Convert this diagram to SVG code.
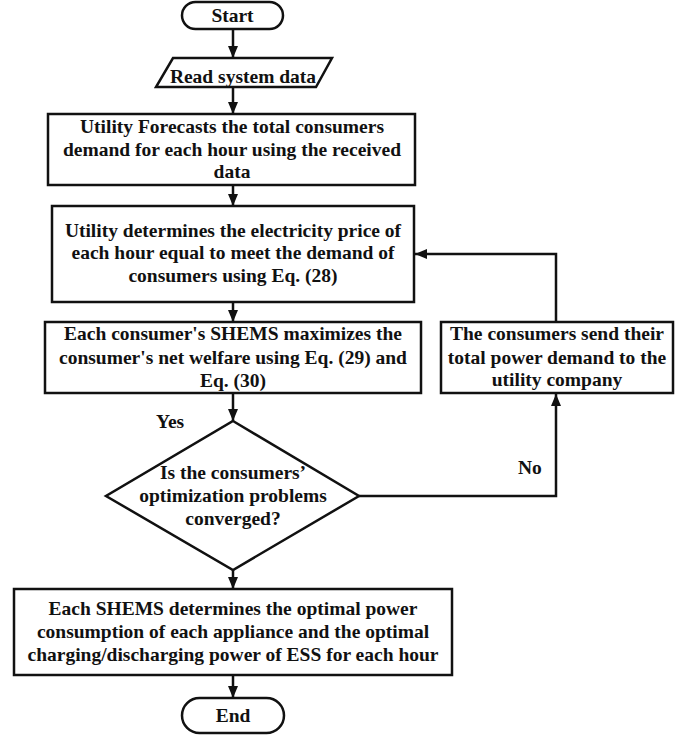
<svg xmlns="http://www.w3.org/2000/svg" width="689" height="738" viewBox="0 0 689 738">
<style>
.box{fill:#fff;stroke:#111;stroke-width:2.5}
.t{font-family:"Liberation Serif","Times New Roman",serif;font-weight:bold;font-size:19.5px;fill:#111;text-anchor:middle}
.lbl{font-family:"Liberation Serif","Times New Roman",serif;font-weight:bold;font-size:19.5px;fill:#111}
.c{fill:none;stroke:#111;stroke-width:2.5}
</style>
<defs>
<marker id="ah" markerUnits="userSpaceOnUse" viewBox="0 0 12 10" markerWidth="12" markerHeight="10" refX="12" refY="5" orient="auto">
<path d="M0,0 L12,5 L0,10 z" fill="#111"/>
</marker>
</defs>
<rect width="689" height="738" fill="#fff"/>
<g id="connectors">
<line class="c" x1="233" y1="29" x2="233" y2="58" marker-end="url(#ah)"/>
<line class="c" x1="233" y1="87" x2="233" y2="114" marker-end="url(#ah)"/>
<line class="c" x1="233" y1="185" x2="233" y2="206" marker-end="url(#ah)"/>
<line class="c" x1="233" y1="302" x2="233" y2="322" marker-end="url(#ah)"/>
<line class="c" x1="233" y1="393" x2="233" y2="421" marker-end="url(#ah)"/>
<line class="c" x1="233" y1="570" x2="233" y2="589" marker-end="url(#ah)"/>
<line class="c" x1="233" y1="675" x2="233" y2="698" marker-end="url(#ah)"/>
<polyline class="c" points="359,496 556,496 556,394" marker-end="url(#ah)"/>
<polyline class="c" points="556,322 556,254 415,254" marker-end="url(#ah)"/>
<text class="lbl" x="156" y="428">Yes</text>
<text class="lbl" x="518" y="474">No</text>
</g>
<g id="start">
<rect class="box" x="182" y="2" width="101" height="27" rx="13.5"/>
<text class="t" x="232.5" y="22">Start</text>
</g>
<g id="read">
<polygon class="box" points="173,58 332,58 316,87 156,87"/>
<text class="t" x="243" y="83">Read system data</text>
</g>
<g id="forecast">
<rect class="box" x="48" y="114" width="367" height="71"/>
<text class="t" x="232" y="133">Utility Forecasts the total consumers</text>
<text class="t" x="232" y="155.5">demand for each hour using the received</text>
<text class="t" x="232" y="178">data</text>
</g>
<g id="price">
<rect class="box" x="52" y="206" width="362" height="96"/>
<text class="t" x="233" y="236.5">Utility determines the electricity price of</text>
<text class="t" x="233" y="259">each hour equal to meet the demand of</text>
<text class="t" x="233" y="282">consumers using Eq. (28)</text>
</g>
<g id="shems">
<rect class="box" x="45" y="322" width="376" height="71"/>
<text class="t" x="233" y="340">Each consumer's SHEMS maximizes the</text>
<text class="t" x="233" y="363.5">consumer's net welfare using Eq. (29) and</text>
<text class="t" x="233" y="387">Eq. (30)</text>
</g>
<g id="send">
<rect class="box" x="441" y="322" width="232" height="71"/>
<text class="t" x="557" y="340">The consumers send their</text>
<text class="t" x="557" y="363.5">total power demand to the</text>
<text class="t" x="557" y="386">utility company</text>
</g>
<g id="decision">
<polygon class="box" points="233,421 359,496 233,570 106,496"/>
<text class="t" x="233" y="479">Is the consumers’</text>
<text class="t" x="233" y="502">optimization problems</text>
<text class="t" x="233" y="524.5">converged?</text>
</g>
<g id="optimal">
<rect class="box" x="14" y="589" width="438" height="86"/>
<text class="t" x="233" y="615">Each SHEMS determines the optimal power</text>
<text class="t" x="233" y="638">consumption of each appliance and the optimal</text>
<text class="t" x="233" y="660.5">charging/discharging power of ESS for each hour</text>
</g>
<g id="end">
<rect class="box" x="182" y="698" width="102" height="35" rx="17.5"/>
<text class="t" x="233" y="722">End</text>
</g>
</svg>
